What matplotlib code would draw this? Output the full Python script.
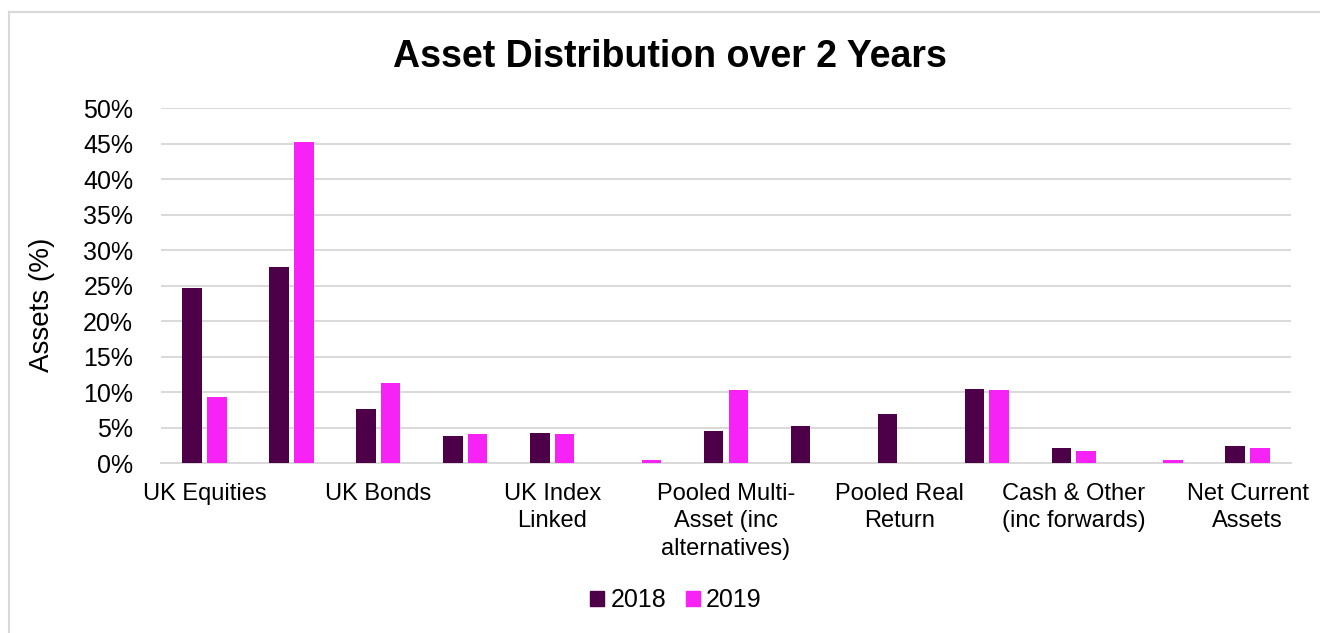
import numpy as np
import matplotlib.pyplot as plt
from matplotlib.patches import Patch
from matplotlib.lines import Line2D

plt.rcParams['font.family'] = ['Liberation Sans', 'DejaVu Sans']

# asset classes (only every other label fits on the axis)
categories = ["UK Equities", "", "UK Bonds", "", "UK Index\nLinked", "",
              "Pooled Multi-\nAsset (inc\nalternatives)", "", "Pooled Real\nReturn", "",
              "Cash & Other\n(inc forwards)", "", "Net Current\nAssets"]
years = ["2018", "2019"]
assets_2018 = [24.7, 27.6, 7.6, 3.9, 4.3, 0.0, 4.5, 5.3, 6.95, 10.5, 2.2, 0.0, 2.4]
assets_2019 = [9.3, 45.3, 11.35, 4.1, 4.1, 0.45, 10.35, 0.0, 0.0, 10.3, 1.75, 0.45, 2.15]
yticks = [0, 5, 10, 15, 20, 25, 30, 35, 40, 45, 50]

dark = '#4D0047'
pink = '#F622F6'
grid_col = '#D9D9D9'

fig = plt.figure(figsize=(13.2, 6.33), dpi=100)
ax = fig.add_axes([161/1320, 1-463.3/633, 1130/1320, 355/633])

x = np.arange(len(categories))
w = 0.225
ax.bar(x - 0.142, assets_2018, w, color=dark, zorder=3)
ax.bar(x + 0.142, assets_2019, w, color=pink, zorder=3)

ax.set_xlim(-0.5, len(categories) - 0.5)
ax.set_ylim(0, 50)
ax.set_yticks(yticks)
ax.set_yticklabels([f"{t}%" for t in yticks], fontsize=18)
ax.set_xticks(x[::2])
ax.set_xticklabels(categories[::2], fontsize=17, linespacing=1.32, va='top')
ax.tick_params(axis='y', length=0, pad=20)
ax.tick_params(axis='x', length=0, pad=14)
ax.yaxis.grid(True, color=grid_col, linewidth=1.4, zorder=0)
for s in ['top', 'right', 'left']:
    ax.spines[s].set_visible(False)
ax.spines['bottom'].set_color(grid_col)
ax.spines['bottom'].set_linewidth(1.4)

fig.text(670/1320, 1-67/633, "Asset Distribution over 2 Years",
         fontsize=27, fontweight='bold', ha='center', va='baseline')
fig.text(42/1320, 1-305/633, "Assets (%)", fontsize=20, rotation=90,
         ha='center', va='center')

handles = [Patch(color=dark, label=years[0]), Patch(color=pink, label=years[1])]
fig.legend(handles=handles, loc='center', bbox_to_anchor=(676/1320, 1-600/633),
           ncol=2, frameon=False, fontsize=18, handlelength=0.55, handleheight=0.55,
           handletextpad=0.25, columnspacing=0.8)

# thin chart-area border along the top and left
fig.add_artist(Line2D([9/1320, 9/1320], [0, 1-12/633], color=grid_col, linewidth=1.5))
fig.add_artist(Line2D([9/1320, 1], [1-12/633, 1-12/633], color=grid_col, linewidth=1.5))

fig.savefig("out.png", dpi=100)
